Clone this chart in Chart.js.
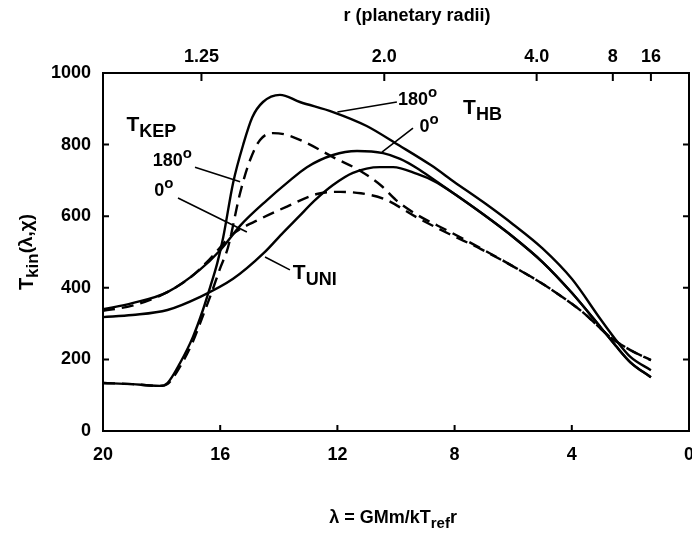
<!DOCTYPE html>
<html>
<head>
<meta charset="utf-8">
<script src="https://cdn.jsdelivr.net/npm/chart.js@4.4.1/dist/chart.umd.min.js"></script>
<style>
  html, body { margin: 0; padding: 0; background: #fff; }
</style>
</head>
<body>
<canvas id="chart" width="692" height="535"></canvas>
<script>
// values: lambda (x) and kinetic temperature (y)
const kep180Lambda = [20, 19, 18.4, 18.05, 17.8, 17.37, 16.93, 16.59, 16.35, 16.1, 15.9, 15.56, 15.2, 14.9, 14.54, 13.96, 13.28, 12.15, 11.0, 9.9, 8.8, 8.0, 7.0, 6.0, 5.0, 4.0, 3.0, 2.5, 2.0, 1.3]
const kep180T = [134, 131, 127, 126, 134, 190, 263, 338, 400, 469, 540, 693, 804, 877, 919, 939, 919, 891, 852, 798, 742, 695, 638, 577, 510, 425, 310, 255, 207, 170]

const kep0Lambda = [20, 19, 18.4, 18.05, 17.8, 17.37, 16.93, 16.59, 16.3, 16.0, 15.73, 15.32, 14.98, 14.64, 14.2, 13.72, 13.04, 12.15, 11.23, 10.5, 10.0, 9.3, 8.2, 7.1, 5.9, 4.75, 3.6, 2.7, 2.0, 1.3]
const kep0T = [134, 131, 127, 126, 131, 180, 250, 322, 385, 455, 514, 665, 757, 813, 832, 827, 804, 765, 727, 685, 645, 605, 558, 510, 455, 398, 330, 263, 226, 198]

const hb180Lambda = [20, 19, 17.8, 16.7, 16.0, 15.3, 14.4, 13.72, 13.04, 12.15, 11.33, 10.44, 9.86, 9.28, 8.7, 8.0, 7.0, 6.0, 5.0, 4.0, 3.0, 2.5, 2.0, 1.3]
const hb180T = [340, 357, 388, 450, 505, 575, 645, 693, 737, 771, 782, 776, 760, 734, 702, 662, 604, 542, 472, 386, 288, 238, 192, 150]

const hb0Lambda = [20, 19, 18, 17, 16.3, 15.6, 14.64, 13.72, 12.7, 11.9, 11.2, 10.4, 9.3, 8.2, 7.1, 5.9, 4.75, 3.6, 2.7, 2.0, 1.3]
const hb0T = [336, 350, 380, 430, 485, 548, 592, 627, 662, 668, 664, 648, 597, 551, 508, 455, 398, 330, 263, 226, 198]

const uniLambda = [20, 19, 17.8, 16.7, 15.56, 14.5, 13.9, 13.3, 12.8, 12.15, 11.47, 10.55, 10.1, 9.28, 8.7, 8.0, 7.0, 6.0, 5.0, 4.0, 3.0, 2.5, 2.0, 1.3]
const uniT = [318, 324, 338, 374, 425, 498, 550, 600, 642, 687, 721, 737, 737, 718, 698, 662, 604, 542, 472, 386, 288, 238, 192, 150]

const lambdaTicks = [20, 16, 12, 8, 4, 0]
const tempTicks = [0, 200, 400, 600, 800, 1000]
const radiusTicks = [1.25, 2.0, 4.0, 8, 16]
const radiusLabels = ['1.25', '2.0', '4.0', '8', '16']
const lambdaTimesRadius = 20.8   // top axis: r = 20.8 / lambda

const family = "'Liberation Sans', Arial, Helvetica, sans-serif"
Chart.defaults.font.family = family
Chart.defaults.color = '#000'

const pts = (xs, ys) => xs.map((x, i) => ({ x: x, y: ys[i] }))

const line = (label, xs, ys, dashed) => ({
  label: label,
  data: pts(xs, ys),
  borderColor: '#000',
  borderWidth: 2.4,
  borderDash: dashed ? [12, 7] : [],
  pointRadius: 0,
  cubicInterpolationMode: 'monotone',
  fill: false
})

// labels drawn on the plot, placed in data units (lambda, T)
const notes = [
  { at: [19.2, 855], parts: [['T', 21, 0], ['KEP', 18, 7]] },
  { at: [18.3, 754], parts: [['180', 18, 0], ['o', 15, -7]] },
  { at: [18.25, 670], parts: [['0', 18, 0], ['o', 15, -7]] },
  { at: [13.52, 441], parts: [['T', 21, 0], ['UNI', 18, 7]] },
  { at: [9.93, 925], parts: [['180', 18, 0], ['o', 15, -7]] },
  { at: [9.2, 849], parts: [['0', 18, 0], ['o', 15, -7]] },
  { at: [7.71, 902], parts: [['T', 21, 0], ['HB', 18, 7]] }
]
const leaders = [
  [[16.86, 737], [15.32, 696]],
  [[17.44, 651], [15.09, 556]],
  [[14.47, 486], [13.62, 450]],
  [[12.0, 891], [9.97, 919]],
  [[10.48, 779], [9.42, 846]]
]

function textWidth(ctx, parts) {
  let w = 0
  parts.forEach(([t, size]) => {
    ctx.font = `bold ${size}px ${family}`
    w += ctx.measureText(t).width
  })
  return w
}

function richText(ctx, x, y, parts) {
  let cx = x
  parts.forEach(([t, size, dy]) => {
    ctx.font = `bold ${size}px ${family}`
    ctx.fillText(t, cx, y + dy)
    cx += ctx.measureText(t).width
  })
}

const decorations = {
  id: 'decorations',
  afterDatasetsDraw(chart) {
    const { ctx, chartArea: a, scales } = chart
    const x = scales.x, y = scales.y, top = scales.x2
    ctx.save()
    ctx.strokeStyle = '#000'
    ctx.fillStyle = '#000'

    // box
    ctx.lineWidth = 2
    ctx.strokeRect(a.left, a.top, a.right - a.left, a.bottom - a.top)

    // inward tick marks
    ctx.beginPath()
    lambdaTicks.slice(1, -1).forEach(v => {
      const px = x.getPixelForValue(v)
      ctx.moveTo(px, a.bottom); ctx.lineTo(px, a.bottom - 6)
    })
    tempTicks.slice(1, -1).forEach(v => {
      const py = y.getPixelForValue(v)
      ctx.moveTo(a.left, py); ctx.lineTo(a.left + 6, py)
      ctx.moveTo(a.right, py); ctx.lineTo(a.right - 6, py)
    })
    radiusTicks.forEach(r => {
      const px = top.getPixelForValue(lambdaTimesRadius / r)
      ctx.moveTo(px, a.top); ctx.lineTo(px, a.top + 8)
    })
    ctx.stroke()

    // leader lines
    ctx.lineWidth = 1.6
    ctx.beginPath()
    leaders.forEach(([p, q]) => {
      ctx.moveTo(x.getPixelForValue(p[0]), y.getPixelForValue(p[1]))
      ctx.lineTo(x.getPixelForValue(q[0]), y.getPixelForValue(q[1]))
    })
    ctx.stroke()

    // curve labels
    ctx.textBaseline = 'middle'
    ctx.textAlign = 'left'
    notes.forEach(n => {
      richText(ctx, x.getPixelForValue(n.at[0]), y.getPixelForValue(n.at[1]), n.parts)
    })

    // axis titles
    const xTitle = [['λ = GMm/kT', 18, 0], ['ref', 15, 6], ['r', 18, 0]]
    const xw = textWidth(ctx, xTitle)
    richText(ctx, x.getPixelForValue(10.1) - xw / 2, 518, xTitle)

    const topTitle = [['r (planetary radii)', 18, 0]]
    const tw = textWidth(ctx, topTitle)
    richText(ctx, top.getPixelForValue(9.28) - tw / 2, 16, topTitle)

    const yTitle = [['T', 20, 0], ['kin', 17, 6], ['(λ,χ)', 19, 0]]
    const yw = textWidth(ctx, yTitle)
    ctx.translate(27, (a.top + a.bottom) / 2)
    ctx.rotate(-Math.PI / 2)
    richText(ctx, -yw / 2, 0, yTitle)
    ctx.restore()
  }
}

const tickFont = { size: 18, weight: 'bold' }

new Chart(document.querySelector('#chart').getContext('2d'), {
  type: 'line',
  data: {
    datasets: [
      line('T_KEP 180', kep180Lambda, kep180T, false),
      line('T_KEP 0', kep0Lambda, kep0T, true),
      line('T_HB 180', hb180Lambda, hb180T, false),
      line('T_HB 0', hb0Lambda, hb0T, true),
      line('T_UNI', uniLambda, uniT, false)
    ]
  },
  options: {
    responsive: false,
    animation: false,
    layout: { padding: { left: 0, right: 3, top: 0, bottom: 0 } },
    plugins: { legend: { display: false }, tooltip: { enabled: false } },
    scales: {
      x: {
        type: 'linear', position: 'bottom', reverse: true, min: 0, max: 20,
        afterBuildTicks: s => { s.ticks = lambdaTicks.map(v => ({ value: v })) },
        ticks: { font: tickFont, padding: 13, maxRotation: 0, autoSkip: false, callback: v => String(v) },
        grid: { display: false, drawTicks: false },
        border: { display: false },
        afterFit: s => { s.height = 104; s.paddingLeft = 0; s.paddingRight = 0 }
      },
      x2: {
        type: 'linear', position: 'top', reverse: true, min: 0, max: 20,
        afterBuildTicks: s => { s.ticks = radiusTicks.map(r => ({ value: lambdaTimesRadius / r })) },
        ticks: { font: tickFont, padding: 5, maxRotation: 0, autoSkip: false, callback: (v, i) => radiusLabels[i] },
        grid: { display: false, drawTicks: false },
        border: { display: false },
        afterFit: s => { s.height = 73; s.paddingLeft = 0; s.paddingRight = 0 }
      },
      y: {
        type: 'linear', min: 0, max: 1000,
        afterBuildTicks: s => { s.ticks = tempTicks.map(v => ({ value: v })) },
        ticks: { font: tickFont, padding: 12, callback: v => String(v) },
        grid: { display: false, drawTicks: false },
        border: { display: false },
        afterFit: s => { s.width = 103; s.paddingTop = 0; s.paddingBottom = 0 }
      }
    }
  },
  plugins: [decorations]
})
</script>
</body>
</html>
